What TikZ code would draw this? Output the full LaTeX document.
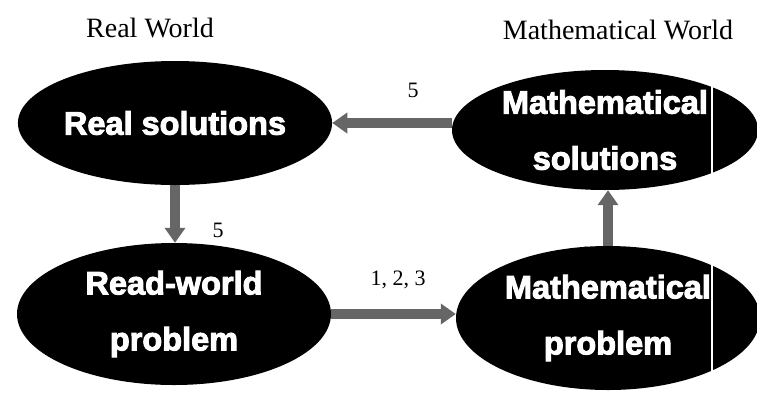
\documentclass[tikz,border=0pt]{standalone}
\usepackage{fontspec}
\setmainfont{Liberation Serif}
\newfontfamily\nodefont[BoldFeatures={RawFeature={embolden=3}}]{Liberation Sans}
\usetikzlibrary{shapes.geometric,arrows.meta}
\pgfdeclarelayer{bg}
\pgfsetlayers{bg,main}
\begin{document}
\begin{tikzpicture}[x=1pt,y=-1pt,
  world/.style={ellipse, fill=black, text=white, inner sep=0pt, align=center,
    font=\nodefont\bfseries\fontsize{32.5}{56}\selectfont},
  bigarr/.style={line width=10pt, draw=black!60, -{Triangle[length=15pt,width=20pt]}},
  lbl/.style={font=\fontsize{22}{24}\selectfont, inner sep=0pt},
  title/.style={font=\fontsize{28}{30}\selectfont, inner sep=0pt}]
\useasboundingbox (0,0) rectangle (757,397);
\clip (0,0) rectangle (757,397);
\node[world, minimum width=314pt, minimum height=124pt] (rs) at (175,123) {Real solutions};
\node[world, minimum width=306pt, minimum height=120pt] (ms) at (605,130) {Mathematical\\solutions};
\node[world, minimum width=314pt, minimum height=142pt] (rw) at (174,314) {Read-world\\problem};
\node[world, minimum width=304pt, minimum height=144pt] (mp) at (608,318) {Mathematical\\problem};
\begin{pgfonlayer}{bg}
\draw[bigarr] (ms.west |- rs.east) -- (rs.east);
\draw[bigarr] (rs.south) -- (rs.south |- rw.north);
\draw[bigarr] (rw.east) -- (rw.east -| mp.west);
\draw[bigarr] (mp.north) -- (mp.north |- ms.south);
\end{pgfonlayer}
\draw[white, line width=2.5pt] (712,62) -- (712,397);
\node[lbl] (l5a) at (413,90) {5};
\node[lbl] (l5b) at (218,230) {5};
\node[lbl] (l123) at (398,280) {1, 2, 3};
\node[lbl] (l4) at (583,254) {4};
\node[title] (trw) at (150,28) {Real World};
\node[title] (tmw) at (618,30) {Mathematical World};
\end{tikzpicture}
\end{document}
